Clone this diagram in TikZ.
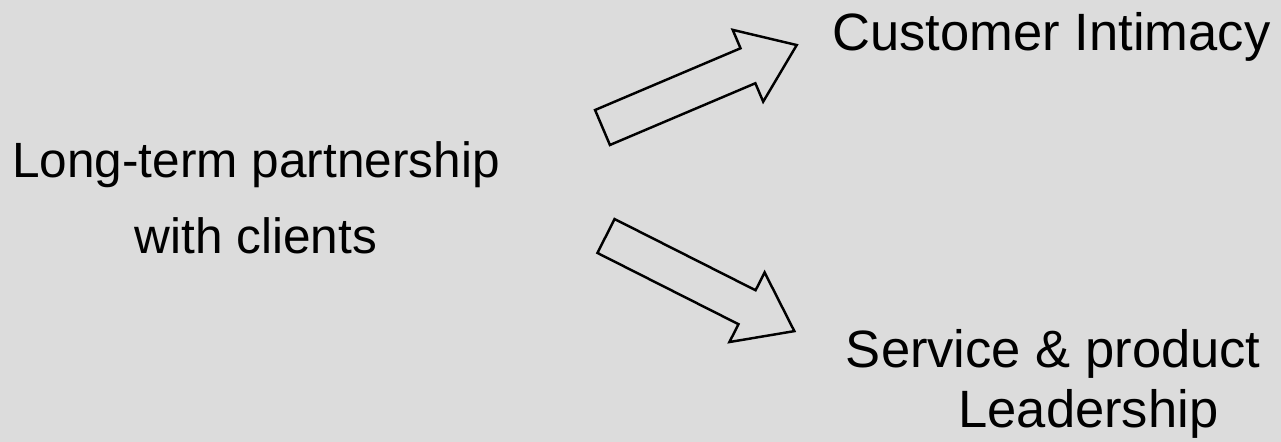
\documentclass[tikz,border=0pt]{standalone}
\usepackage{fontspec}
\setmainfont{Liberation Sans}
\usepackage{xcolor}
\usepackage{tikz}
\usetikzlibrary{positioning}
\definecolor{slidegray}{RGB}{220,220,220}

\begin{document}
\begin{tikzpicture}[
  x=0.02cm, y=-0.02cm,
  every node/.style={inner sep=0pt, text=black},
  claim/.style={font=\fontsize{28.2pt}{43.2pt}\selectfont, align=center},
  goal/.style={font=\fontsize{29.9pt}{34pt}\selectfont, align=left},
  hollow/.style={draw=black, line width=1.4pt, line join=miter},
  fatarrow/.pic={\draw[hollow] (0,-19) -- (158,-19) -- (158,-39) -- (211,0)
      -- (158,39) -- (158,19) -- (0,19) -- cycle;}
]
\fill[slidegray] (0,0) rectangle (1281,442);
\useasboundingbox (0,0) rectangle (1281,442);

\node[claim, anchor=north] (partner) at (256,141.5) {Long-term partnership\\with clients};
\node[goal, anchor=north] (intimacy) at (1051.5,12) {Customer Intimacy};
\node[goal, anchor=north west] (leadership) at (845.6,329)
  {Service \& product\\\hspace{2.25cm}Leadership};

% block arrows from the partnership towards both goals
\coordinate (upTail) at (602.5,127.5);
\coordinate (downTail) at (606,236);
\pic[rotate=23] at (upTail) {fatarrow};
\pic[rotate=-26.8] at (downTail) {fatarrow};
\end{tikzpicture}
\end{document}
